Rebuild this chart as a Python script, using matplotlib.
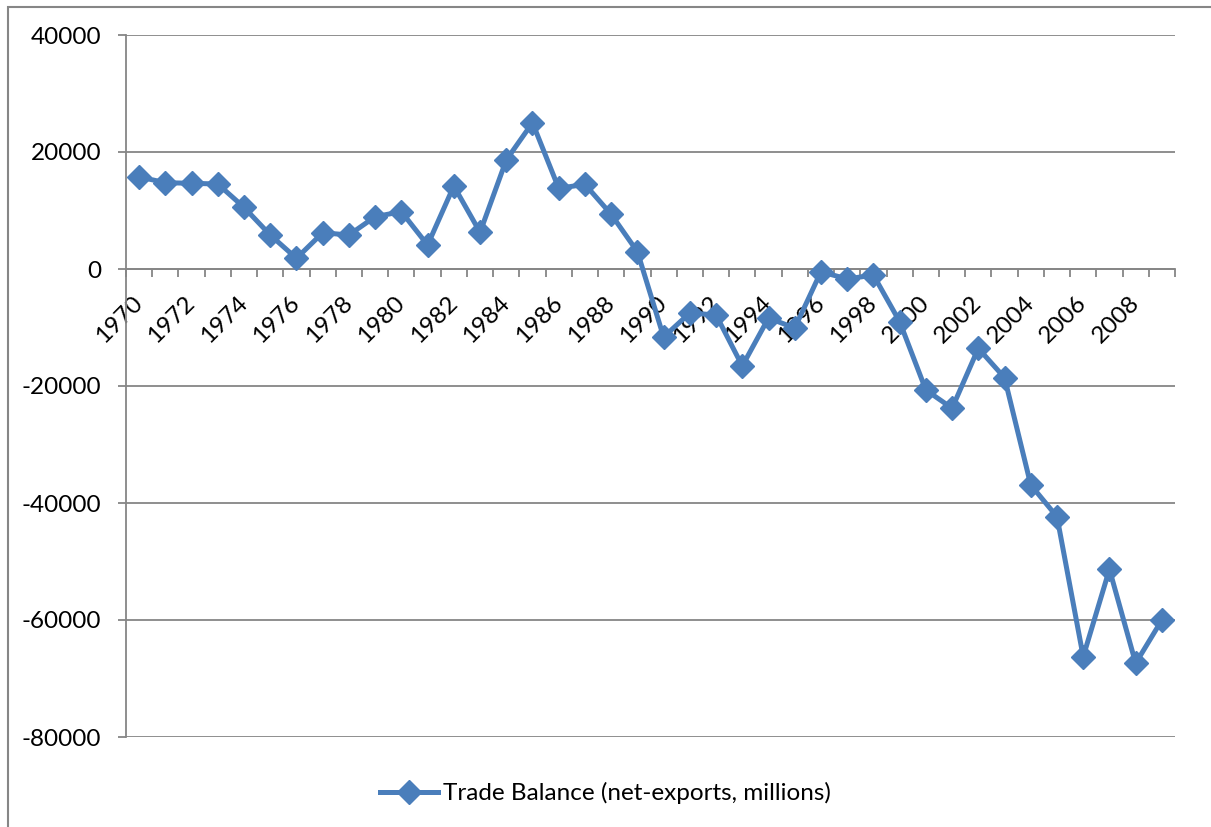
import numpy as np
import matplotlib
matplotlib.use("Agg")
import matplotlib.pyplot as plt
from matplotlib.patches import Rectangle

# data
years = list(range(1970, 2010))
balance = [15750, 14750, 14650, 14530, 10540, 5810, 1830, 6200, 5810, 8940,
           9800, 4100, 14190, 6270, 18630, 25000, 13790, 14470, 9350, 2960,
           -11620, -7520, -7860, -16580, -8380, -10090, -460, -1710, -1030, -9000,
           -20680, -23800, -13560, -18580, -36920, -42340, -66270, -51330, -67400, -60000]
y_ticks = [-80000, -60000, -40000, -20000, 0, 20000, 40000]
series_name = "Trade Balance (net-exports, millions)"

line_col = "#4A7EBB"
axis_col = "#868686"
fs = 17.5

plt.rcParams['font.family'] = ['Lato', 'DejaVu Sans']

fig = plt.figure(figsize=(12.11, 8.27), dpi=100)
ax = fig.add_axes([126/1211, 1 - 737/827, (1175-126)/1211, (737-35)/827])

x = np.arange(len(years))
ax.plot(x, balance, color=line_col, lw=3.6, marker='D', ms=12,
        markeredgecolor=line_col, label=series_name, zorder=3)

ax.set_xlim(-0.5, len(years) - 0.5)
ax.set_ylim(y_ticks[0], y_ticks[-1])
ax.set_yticks(y_ticks)
ax.set_yticklabels([str(v) for v in y_ticks], fontsize=fs)
ax.yaxis.grid(True, color=axis_col, lw=1.3)
ax.set_axisbelow(True)

# category axis sits on zero
ax.spines['bottom'].set_position(('data', 0))
for s in ['top', 'right']:
    ax.spines[s].set_visible(False)
for s in ['left', 'bottom']:
    ax.spines[s].set_color(axis_col)
    ax.spines[s].set_linewidth(1.3)

ax.set_xticks(x[::2])
ax.set_xticklabels([str(y) for y in years[::2]], fontsize=fs, rotation=45,
                   ha='right', va='center', rotation_mode='anchor')
ax.set_xticks(np.arange(-0.5, len(years)), minor=True)
ax.tick_params(axis='x', which='major', length=0, pad=22)
ax.tick_params(axis='x', which='minor', length=6, width=1.3, color=axis_col, direction='out')
ax.tick_params(axis='y', length=6, width=1.3, color=axis_col, pad=12)

fig.legend(loc='center', bbox_to_anchor=(0.5, 1 - 793/827), frameon=False,
           fontsize=fs, handlelength=2.4, handletextpad=0.2)

# outer chart border (cut off on the right and bottom)
fig.patches.append(Rectangle((8/1211, -0.1), 1.2, 1.1 - 7/827, transform=fig.transFigure,
                             fill=False, edgecolor=axis_col, lw=1.5))

fig.savefig("out.png", dpi=100)
